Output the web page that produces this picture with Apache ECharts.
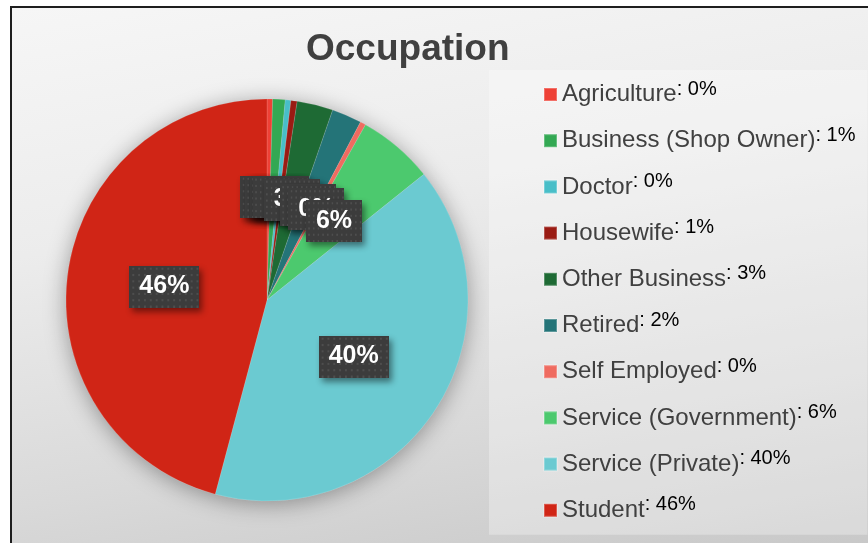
<!DOCTYPE html>
<html>
<head>
<meta charset="utf-8">
<title>Occupation</title>
<script src="https://cdn.jsdelivr.net/npm/echarts@6/dist/echarts.min.js"></script>
<style>
html, body { margin: 0; padding: 0; background: #fff; overflow: hidden; }
#frame {
    position: absolute; left: 10px; top: 6px; width: 880px; height: 560px;
    border: 2px solid #1e1e1e;
    background: linear-gradient(170deg, #f6f6f6 0%, #ececec 35%, #d9d9d9 70%, #c6c6c6 100%);
}
#main { position: absolute; left: 0; top: 0; width: 868px; height: 543px; }
</style>
</head>
<body>
<div id="frame"></div>
<div id="main"></div>
<script>
// 数据
var occupations = ['Agriculture', 'Business (Shop Owner)', 'Doctor', 'Housewife', 'Other Business',
    'Retired', 'Self Employed', 'Service (Government)', 'Service (Private)', 'Student'];
var shares = [0.45, 1.0, 0.45, 0.5, 2.9, 2.4, 0.45, 6.1, 39.9, 45.85];
var colors = ['#ee4136', '#33a853', '#48bec8', '#9a1b13', '#1e6a34',
    '#247478', '#ef6b60', '#4cc96e', '#6bcad1', '#d02516'];

var total = shares.reduce(function (a, b) { return a + b; }, 0);
function pct(v) {
    return Math.round(v / total * 100 + 1e-9);
}

// 标签底纹（深灰带点）
var tex = document.createElement('canvas');
tex.width = 72;
tex.height = 40;
var ctx = tex.getContext('2d');
ctx.fillStyle = '#3c3c3c';
ctx.fillRect(0, 0, tex.width, tex.height);
ctx.fillStyle = '#4e4e4e';
for (var y = 2; y < tex.height; y += 6) {
    for (var x = 3; x < tex.width; x += 6) {
        ctx.fillRect(x, y, 2, 2);
    }
}

var chart = echarts.init(document.getElementById('main'));

var option = {
    backgroundColor: 'transparent',
    title: {
        text: 'Occupation',
        left: 306,
        top: 31,
        padding: 0,
        textStyle: {
            fontFamily: 'Liberation Sans, Arial',
            fontSize: 37,
            fontWeight: 'bold',
            color: '#404040'
        }
    },
    legend: {
        orient: 'vertical',
        left: 489,
        top: 70,
        padding: [9, 12, 9, 54],
        itemGap: 15.2,
        itemWidth: 13,
        itemHeight: 13,
        icon: 'rect',
        selectedMode: false,
        backgroundColor: 'rgba(255,255,255,0.3)',
        data: occupations,
        formatter: function (name) {
            var v = shares[occupations.indexOf(name)];
            return '{n|' + name + '}{v|: ' + pct(v) + '%}';
        },
        textStyle: {
            rich: {
                n: {
                    fontFamily: 'Liberation Sans, Arial',
                    fontSize: 24,
                    lineHeight: 30,
                    color: '#404040'
                },
                v: {
                    fontFamily: 'Liberation Sans, Arial',
                    fontSize: 20,
                    lineHeight: 30,
                    color: '#000',
                    padding: [0, 0, 11, 0]
                }
            }
        }
    },
    color: colors,
    series: [
        {
            // 饼图阴影
            type: 'pie',
            silent: true,
            center: [267, 300],
            radius: 201,
            z: 1,
            label: { show: false },
            labelLine: { show: false },
            itemStyle: {
                color: '#bbbbbb',
                shadowBlur: 22,
                shadowOffsetY: 3,
                shadowColor: 'rgba(0,0,0,0.35)'
            },
            data: [{ value: total, name: '' }]
        },
        {
            name: 'Occupation',
            type: 'pie',
            center: [267, 300],
            radius: 201,
            startAngle: 90,
            clockwise: true,
            z: 2,
            avoidLabelOverlap: false,
            labelLayout: { hideOverlap: false },
            itemStyle: {
                borderColor: 'rgba(255,255,255,0.25)',
                borderWidth: 0.5
            },
            label: {
                show: true,
                position: 'inside',
                formatter: function (p) { return pct(p.value) + '%'; },
                fontFamily: 'Liberation Sans, Arial',
                fontSize: 25,
                fontWeight: 'bold',
                color: '#fff',
                backgroundColor: { image: tex },
                padding: [10, 10, 7, 10],
                shadowBlur: 6,
                shadowOffsetX: 3,
                shadowOffsetY: 4,
                shadowColor: 'rgba(0,0,0,0.45)'
            },
            labelLine: { show: false },
            emphasis: { disabled: true },
            data: occupations.map(function (n, i) {
                return { name: n, value: shares[i] };
            })
        }
    ]
};

chart.setOption(option);
</script>
</body>
</html>
